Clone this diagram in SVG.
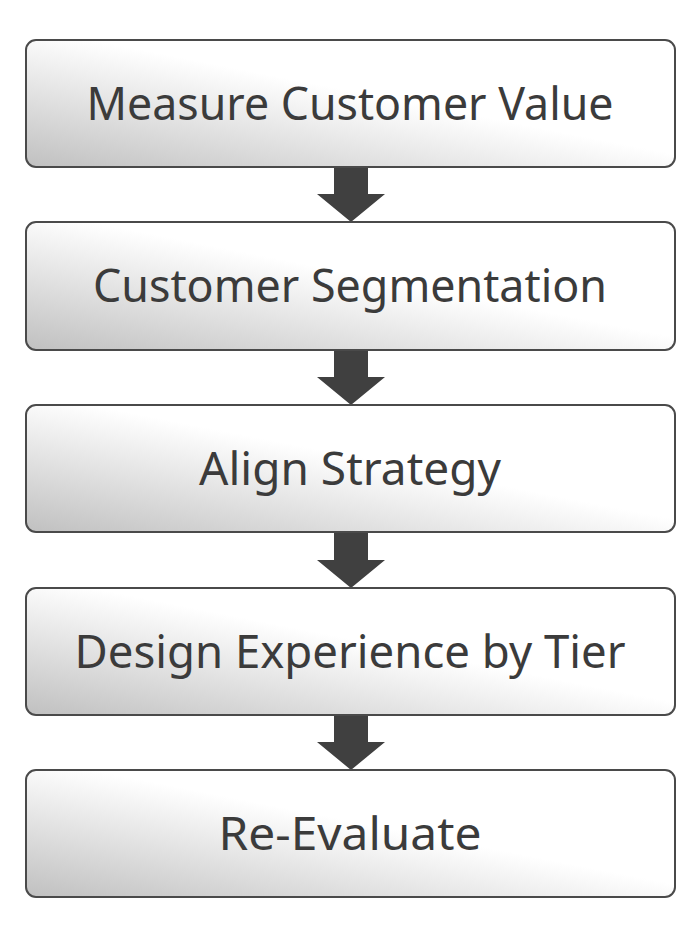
<svg xmlns="http://www.w3.org/2000/svg" width="698" height="937" viewBox="0 0 698 937">
<defs>
<linearGradient id="g" x1="0" y1="1" x2="1" y2="0">
<stop offset="0" stop-color="#c0c0c0"/>
<stop offset="0.55" stop-color="#ffffff"/>
<stop offset="1" stop-color="#ffffff"/>
</linearGradient>
<style>
.box{fill:url(#g);stroke:#4a4a4a;stroke-width:2}
.lbl{font-family:"Noto Sans",sans-serif;font-size:45px;fill:#3b3b3b;text-anchor:middle}
.arr{fill:#404040}
</style>
</defs>
<rect width="698" height="937" fill="#ffffff"/>
<g id="connectors">
<polygon class="arr" points="334,167 368,167 368,194 385,194 351,222 317,194 334,194"/>
<polygon class="arr" points="334,350 368,350 368,377 385,377 351,405 317,377 334,377"/>
<polygon class="arr" points="334,532 368,532 368,560 385,560 351,588 317,560 334,560"/>
<polygon class="arr" points="334,715 368,715 368,742 385,742 351,770 317,742 334,742"/>
</g>
<g id="n1"><rect class="box" x="26" y="40" width="649" height="127" rx="10"/><text class="lbl" x="350" y="120" textLength="527" lengthAdjust="spacingAndGlyphs">Measure Customer Value</text></g>
<g id="n2"><rect class="box" x="26" y="222" width="649" height="128" rx="10"/><text class="lbl" x="350" y="302" textLength="514" lengthAdjust="spacingAndGlyphs">Customer Segmentation</text></g>
<g id="n3"><rect class="box" x="26" y="405" width="649" height="127" rx="10"/><text class="lbl" x="350" y="485" textLength="302" lengthAdjust="spacingAndGlyphs">Align Strategy</text></g>
<g id="n4"><rect class="box" x="26" y="588" width="649" height="127" rx="10"/><text class="lbl" x="350" y="668" textLength="551" lengthAdjust="spacingAndGlyphs">Design Experience by Tier</text></g>
<g id="n5"><rect class="box" x="26" y="770" width="649" height="127" rx="10"/><text class="lbl" x="350" y="850" textLength="263" lengthAdjust="spacingAndGlyphs">Re-Evaluate</text></g>
</svg>
